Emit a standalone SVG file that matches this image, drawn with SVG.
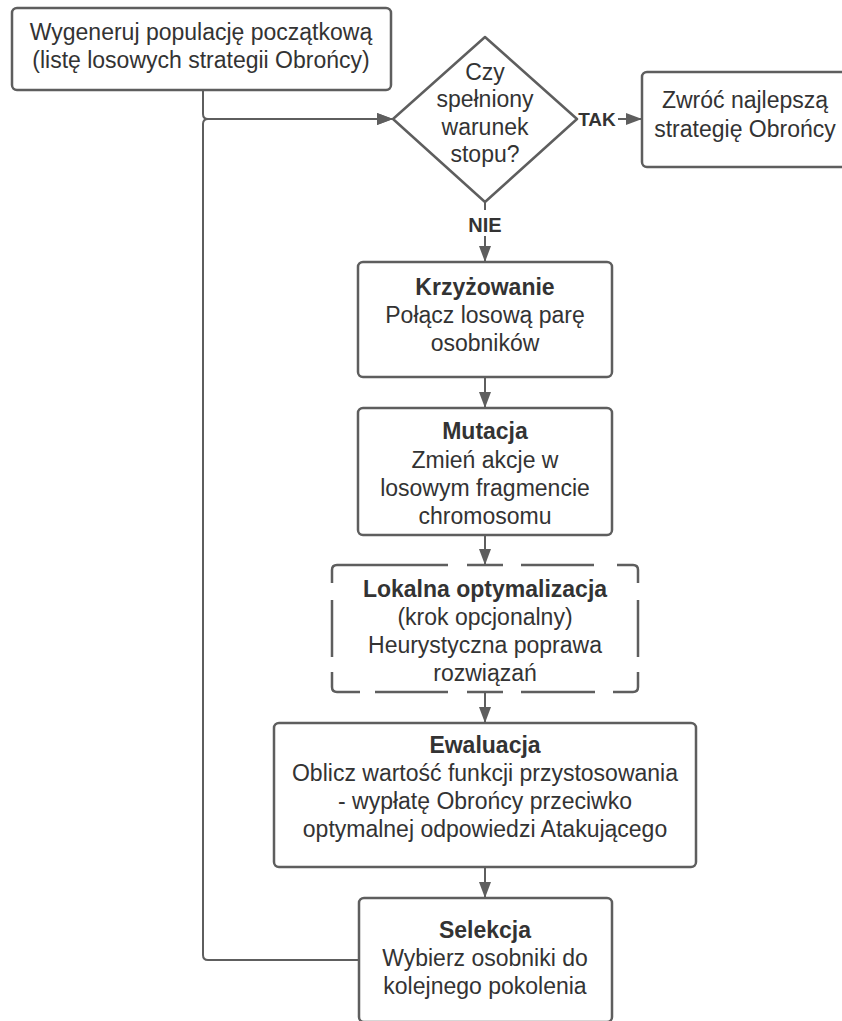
<svg xmlns="http://www.w3.org/2000/svg" width="842" height="1021" viewBox="0 0 842 1021">
<style>
.box{fill:#ffffff;stroke:#5e5e5e;stroke-width:2.5}
.dash{fill:none;stroke:#5e5e5e;stroke-width:2.5;stroke-linecap:butt}
.conn{fill:none;stroke:#5e5e5e;stroke-width:2}
text{font-family:"Liberation Sans",Arial,sans-serif;font-size:23px;fill:#333333;text-anchor:middle}
.b{font-weight:bold}
.lbl{font-weight:bold;font-size:20px}
</style>
<defs>
<marker id="ah" markerUnits="userSpaceOnUse" markerWidth="16" markerHeight="12" refX="16" refY="6" orient="auto">
<path d="M0,0 L16,6 L0,12 z" fill="#5e5e5e"/>
</marker>
</defs>
<rect width="842" height="1021" fill="#ffffff"/>
<g id="connectors">
<path class="conn" d="M203,91 V114 Q203,119 208,119 H393" marker-end="url(#ah)"/>
<path class="conn" d="M359,960 H208 Q203,960 203,955 V124 Q203,119 208,119 H393" marker-end="url(#ah)"/>
<path class="conn" d="M577,119 H642" marker-end="url(#ah)"/>
<path class="conn" d="M485,202 V262" marker-end="url(#ah)"/>
<path class="conn" d="M485,377 V408" marker-end="url(#ah)"/>
<path class="conn" d="M485,535 V565" marker-end="url(#ah)"/>
<path class="conn" d="M485,692 V723" marker-end="url(#ah)"/>
<path class="conn" d="M485,867 V898" marker-end="url(#ah)"/>
<rect x="578" y="106" width="40" height="24" fill="#ffffff"/>
<text class="lbl" x="597" y="126" style="font-size:19px">TAK</text>
<rect x="464" y="210" width="42" height="26" fill="#ffffff"/>
<text class="lbl" x="485" y="232">NIE</text>
</g>
<g id="start">
<rect class="box" x="12" y="8" width="379" height="82" rx="5"/>
<text x="201" y="40">Wygeneruj populację początkową</text>
<text x="201" y="68">(listę losowych strategii Obrońcy)</text>
</g>
<g id="decision">
<polygon class="box" points="393,119 485,37 577,119 485,202" stroke-linejoin="round"/>
<text x="485" y="80">Czy</text>
<text x="485" y="107">spełniony</text>
<text x="485" y="135">warunek</text>
<text x="485" y="162">stopu?</text>
</g>
<g id="result">
<rect class="box" x="642" y="72" width="210" height="95" rx="5"/>
<text x="745" y="108">Zwróć najlepszą</text>
<text x="745" y="137">strategię Obrońcy</text>
</g>
<g id="crossover">
<rect class="box" x="358" y="262" width="254" height="115" rx="5"/>
<text class="b" x="485" y="295">Krzyżowanie</text>
<text x="485" y="323">Połącz losową parę</text>
<text x="485" y="351">osobników</text>
</g>
<g id="mutation">
<rect class="box" x="358" y="408" width="254" height="127" rx="5"/>
<text class="b" x="485" y="439">Mutacja</text>
<text x="485" y="468">Zmień akcje w</text>
<text x="485" y="496">losowym fragmencie</text>
<text x="485" y="524">chromosomu</text>
</g>
<g id="localopt">
<rect x="332" y="565" width="306" height="127" fill="#ffffff"/>
<path class="dash" d="M332,583 V570 Q332,565 337,565 H448 M467,565 H503 M521,565 H594 M617,565 H633 Q638,565 638,570 V583 M638,600 V657 M638,672 V687 Q638,692 633,692 H613 M595,692 H521 M503,692 H467 M448,692 H375 M360,692 H337 Q332,692 332,687 V672 M332,657 V600"/>
<text class="b" x="485" y="597">Lokalna optymalizacja</text>
<text x="485" y="625">(krok opcjonalny)</text>
<text x="485" y="653">Heurystyczna poprawa</text>
<text x="485" y="681">rozwiązań</text>
</g>
<g id="evaluation">
<rect class="box" x="274" y="723" width="422" height="144" rx="5"/>
<text class="b" x="485" y="753">Ewaluacja</text>
<text x="485" y="781">Oblicz wartość funkcji przystosowania</text>
<text x="485" y="809">- wypłatę Obrońcy przeciwko</text>
<text x="485" y="837">optymalnej odpowiedzi Atakującego</text>
</g>
<g id="selection">
<rect class="box" x="359" y="898" width="253" height="124" rx="5"/>
<text class="b" x="485" y="938">Selekcja</text>
<text x="485" y="966">Wybierz osobniki do</text>
<text x="485" y="994">kolejnego pokolenia</text>
</g>
</svg>
